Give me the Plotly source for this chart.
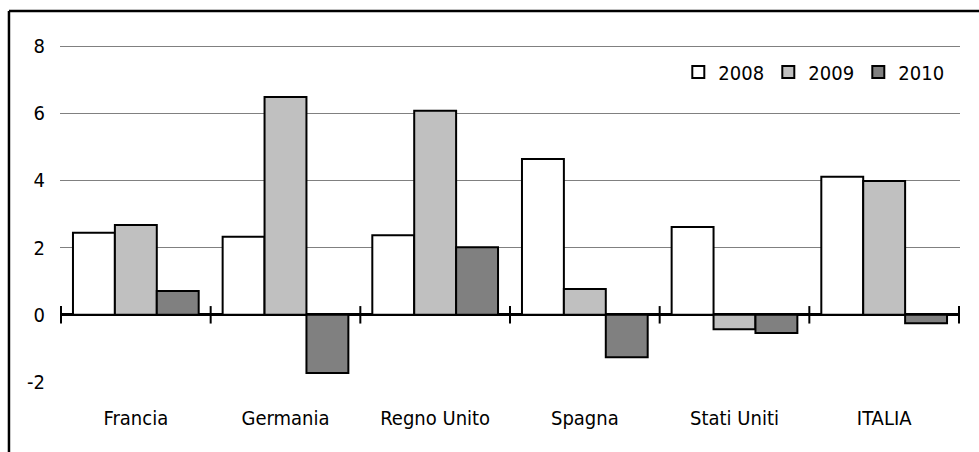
import plotly.graph_objects as go

categories = ["Francia", "Germania", "Regno Unito", "Spagna", "Stati Uniti", "ITALIA"]
years = ["2008", "2009", "2010"]
v2008 = [2.44, 2.32, 2.37, 4.64, 2.61, 4.11]
v2009 = [2.67, 6.48, 6.07, 0.77, -0.43, 3.98]
v2010 = [0.71, -1.73, 2.01, -1.26, -0.54, -0.25]
y_ticks = [-2, 0, 2, 4, 6, 8]
y_ticktext = ["-2", "0", "2", "4", "6", "8"]

series = [v2008, v2009, v2010]
colors = ["#FFFFFF", "#C0C0C0", "#808080"]
FONT = "DejaVu Sans Condensed, Liberation Sans Narrow, Arial Narrow, sans-serif"

fig = go.Figure()
for name, vals, col in zip(years, series, colors):
    fig.add_trace(go.Bar(
        x=categories, y=vals, name=name,
        marker=dict(color=col, line=dict(color="black", width=2)),
    ))

# zero-axis tick marks at category boundaries
shapes = []
for i in range(len(categories) + 1):
    shapes.append(dict(type="line", xref="x", yref="y",
                       x0=i - 0.5, x1=i - 0.5, y0=-0.26, y1=0.26,
                       line=dict(color="black", width=2), layer="above"))
# outer frame (cropped at right and bottom)
shapes.append(dict(type="line", xref="paper", yref="paper",
                   x0=-0.0567, x1=1.1, y0=1.101, y1=1.101,
                   line=dict(color="black", width=2.5)))
shapes.append(dict(type="line", xref="paper", yref="paper",
                   x0=-0.0567, x1=-0.0567, y0=1.101, y1=-0.3,
                   line=dict(color="black", width=2.5)))

fig.update_layout(
    width=979, height=452,
    margin=dict(l=60, r=19, t=45, b=70, autoexpand=False),
    paper_bgcolor="white", plot_bgcolor="white",
    barmode="group", bargap=0.16, bargroupgap=0,
    font=dict(family=FONT, size=20, color="black"),
    showlegend=True,
    legend=dict(orientation="h", x=0.687, y=0.92, xanchor="left", yanchor="middle",
                entrywidth=45, entrywidthmode="pixels",
                font=dict(family=FONT, size=20), bgcolor="rgba(0,0,0,0)",
                itemclick=False, itemdoubleclick=False,
                tracegroupgap=0),
    shapes=shapes,
    xaxis=dict(showgrid=False, showline=False, ticks="", zeroline=False,
               automargin=False,
               ticklabelstandoff=22, tickfont=dict(family=FONT, size=20)),
    yaxis=dict(range=[-2, 8.03], tickvals=y_ticks, ticktext=y_ticktext, showgrid=True,
               gridcolor="#808080", gridwidth=1, automargin=False,
               zeroline=True, zerolinecolor="black", zerolinewidth=2.5,
               showline=False, ticks="", ticklabelstandoff=14,
               tickfont=dict(family=FONT, size=20)),
)

fig.write_html("out.html",
               config={"displayModeBar": False},
               post_script="document.body.style.margin='0';document.body.style.overflow='hidden';")
